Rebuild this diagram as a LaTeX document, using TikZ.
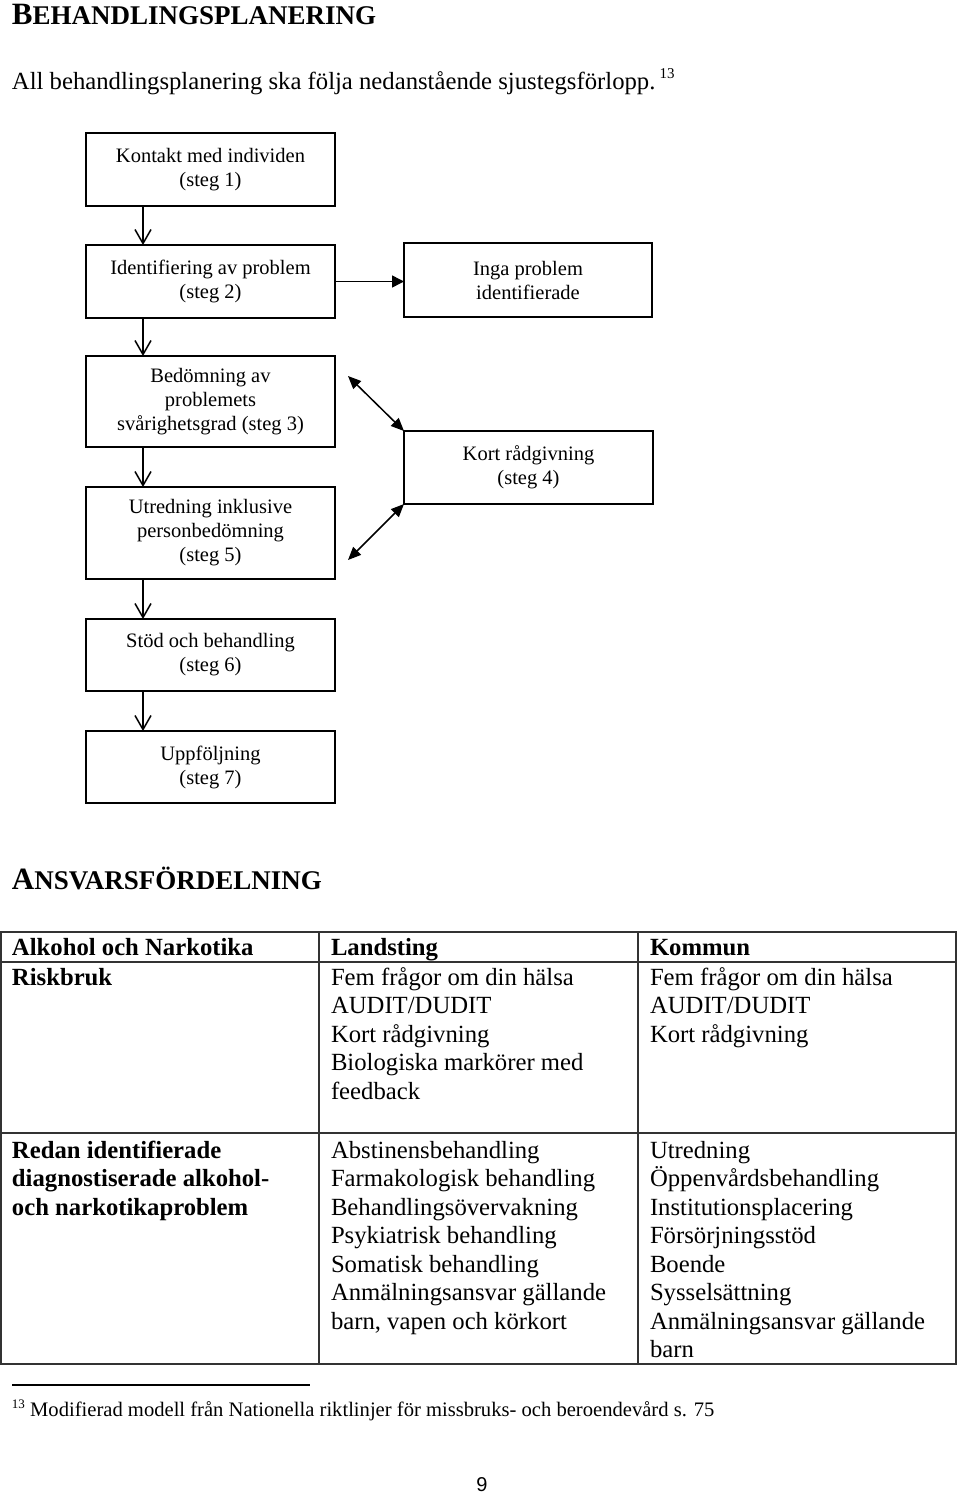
\documentclass[tikz,border=0pt]{standalone}
\usepackage{fontspec}
\setmainfont{Liberation Serif}
\newfontfamily\pagefont{Liberation Sans}
\usetikzlibrary{arrows.meta}
\begin{document}
\begin{tikzpicture}[x=1pt,y=-1pt,
  every node/.style={inner sep=0pt,outer sep=0pt},
  stepbox/.style={draw,line width=1.8pt,align=center,font=\fontsize{20.5}{24}\selectfont},
  vflow/.style={line width=1.5pt,-{Straight Barb[length=14pt,width=16pt,line width=1.5pt]}},
  hflow/.style={line width=1.5pt,-{Triangle[length=12pt,width=12pt]}},
  dflow/.style={line width=1.5pt,{Triangle[length=13pt,width=11pt]}-{Triangle[length=13pt,width=11pt]}},
  cell/.style={anchor=base west,font=\fontsize{24.7}{28.5}\selectfont},
  bcell/.style={cell,font=\fontsize{24.7}{28.5}\selectfont\bfseries},
  tline/.style={line width=1.5pt,black!80}
]
\useasboundingbox (0,0) rectangle (960,1494);

% headings
\node[anchor=base west] (h1) at (12,24) {\bfseries{\fontsize{31}{31}\selectfont B}{\fontsize{27}{27}\selectfont EHANDLINGSPLANERING}};
\node[anchor=base west,font=\fontsize{24.7}{28.5}\selectfont] (intro) at (12,89) {All behandlingsplanering ska följa nedanstående sjustegsförlopp.\,\raisebox{11pt}{\fontsize{15}{15}\selectfont 13}};

% flow boxes
\node[stepbox,minimum width=249pt,minimum height=73pt] (b1) at (210.5,169.5) {Kontakt med individen\\(steg 1)};
\node[stepbox,minimum width=249pt,minimum height=73pt] (b2) at (210.5,281.5) {Identifiering av problem\\(steg 2)};
\node[stepbox,minimum width=248pt,minimum height=74pt] (bi) at (528,280) {Inga problem\\identifierade};
\node[stepbox,minimum width=249pt,minimum height=91pt] (b3) at (210.5,401.5) {Bedömning av\\problemets\\svårighetsgrad (steg 3)};
\node[stepbox,minimum width=249pt,minimum height=73pt] (b4) at (528.5,467.5) {Kort rådgivning\\(steg 4)};
\node[stepbox,minimum width=249pt,minimum height=92pt] (b5) at (210.5,533) {Utredning inklusive\\personbedömning\\(steg 5)};
\node[stepbox,minimum width=249pt,minimum height=72pt] (b6) at (210.5,655) {Stöd och behandling\\(steg 6)};
\node[stepbox,minimum width=249pt,minimum height=72pt] (b7) at (210.5,767) {Uppföljning\\(steg 7)};

\draw[vflow] ([xshift=57pt]b1.south west) -- ([xshift=57pt]b2.north west);
\draw[vflow] ([xshift=57pt]b2.south west) -- ([xshift=57pt]b3.north west);
\draw[vflow] ([xshift=57pt]b3.south west) -- ([xshift=57pt]b5.north west);
\draw[vflow] ([xshift=57pt]b5.south west) -- ([xshift=57pt]b6.north west);
\draw[vflow] ([xshift=57pt]b6.south west) -- ([xshift=57pt]b7.north west);
\draw[hflow] (b2.east) -- (b2.east -| bi.west);
\coordinate (d1) at (348,376);
\coordinate (d2) at (348,560);
\draw[dflow] (d1) -- (b4.north west);
\draw[dflow] (b4.south west) -- (d2);

% second heading
\node[anchor=base west] (h2) at (12,889) {\bfseries{\fontsize{31}{31}\selectfont A}{\fontsize{27}{27}\selectfont NSVARSFÖRDELNING}};

% table
\draw[tline] (1,932) rectangle (956,1364);
\draw[tline] (1,962) -- (956,962);
\draw[tline] (1,1133) -- (956,1133);
\draw[tline] (319,932) -- (319,1364);
\draw[tline] (638,932) -- (638,1364);

\node[bcell] (th1) at (12,955) {Alkohol och Narkotika};
\node[bcell] (th2) at (331,955) {Landsting};
\node[bcell] (th3) at (650,955) {Kommun};

\node[bcell] (r1c1) at (12,985) {Riskbruk};
\foreach \t [count=\i from 0] in {Fem frågor om din hälsa,AUDIT/DUDIT,Kort rådgivning,Biologiska markörer med,feedback}
  \node[cell] (r1c2-\i) at (331,985+28.5*\i) {\t};
\foreach \t [count=\i from 0] in {Fem frågor om din hälsa,AUDIT/DUDIT,Kort rådgivning}
  \node[cell] (r1c3-\i) at (650,985+28.5*\i) {\t};

\foreach \t [count=\i from 0] in {Redan identifierade,diagnostiserade alkohol-,och narkotikaproblem}
  \node[bcell] (r2c1-\i) at (12,1158+28.5*\i) {\t};
\foreach \t [count=\i from 0] in {Abstinensbehandling,Farmakologisk behandling,Behandlingsövervakning,Psykiatrisk behandling,Somatisk behandling,Anmälningsansvar gällande,{barn, vapen och körkort}}
  \node[cell] (r2c2-\i) at (331,1158+28.5*\i) {\t};
\foreach \t [count=\i from 0] in {Utredning,Öppenvårdsbehandling,Institutionsplacering,Försörjningsstöd,Boende,Sysselsättning,Anmälningsansvar gällande,barn}
  \node[cell] (r2c3-\i) at (650,1158+28.5*\i) {\t};

% footnote
\draw[line width=1.2pt] (12,1385) -- (310,1385);
\node[anchor=base west,font=\fontsize{20.6}{24}\selectfont] (fn) at (12,1416) {\raisebox{8pt}{\fontsize{13}{13}\selectfont 13} Modifierad modell från Nationella riktlinjer för missbruks- och beroendevård s. 75};
\node[anchor=base,font=\pagefont\fontsize{20}{24}\selectfont] (pg) at (482,1491) {9};
\end{tikzpicture}
\end{document}
